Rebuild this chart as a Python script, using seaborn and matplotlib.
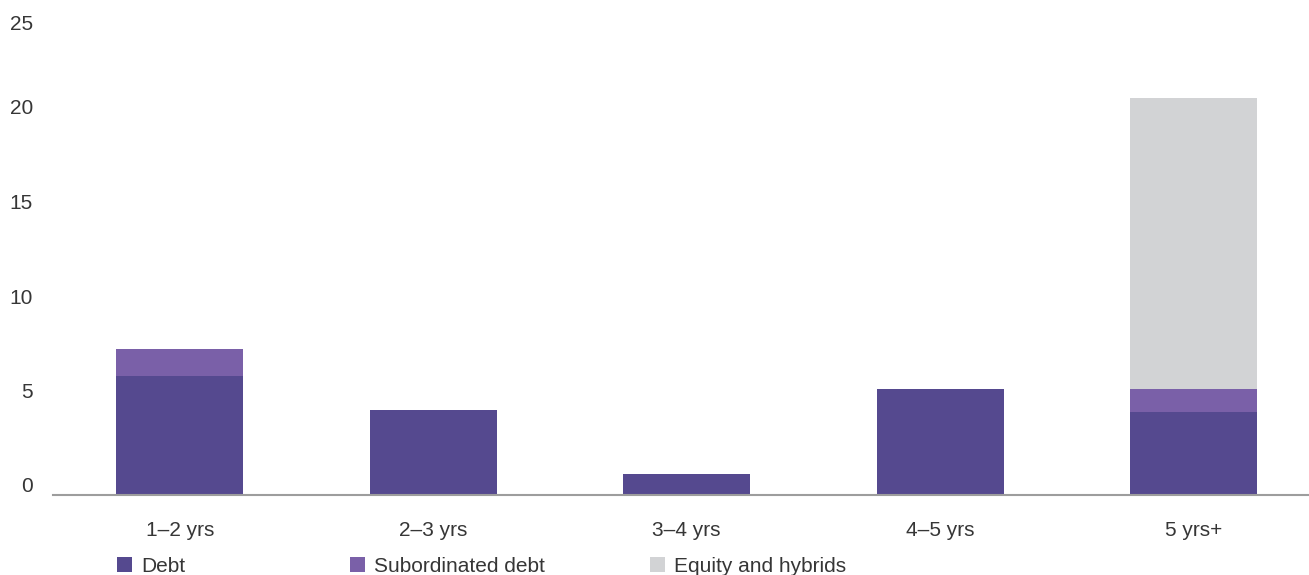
import matplotlib
matplotlib.use("Agg")
import matplotlib.pyplot as plt
from matplotlib.patches import Patch
from matplotlib.transforms import ScaledTranslation
import numpy as np
import pandas as pd
import seaborn as sns

# Maturity buckets and amounts per funding type
categories = ["1\u20132 yrs", "2\u20133 yrs", "3\u20134 yrs", "4\u20135 yrs", "5 yrs+"]
debt = [6.3, 4.5, 1.1, 5.6, 4.4]
subordinated_debt = [1.4, 0.0, 0.0, 0.0, 1.2]
equity_hybrids = [0.0, 0.0, 0.0, 0.0, 15.4]
series_names = ["Debt", "Subordinated debt", "Equity and hybrids"]
y_ticks = [0, 5, 10, 15, 20, 25]

colors = ["#55498F", "#7A60A8", "#D2D3D5"]
text_color = "#363636"

sns.set_theme(style="white")
plt.rcParams["font.family"] = ["Liberation Sans", "DejaVu Sans"]

df = pd.DataFrame({
    "category": categories,
    "debt": debt,
    "sub": subordinated_debt,
    "equity": equity_hybrids,
})
df["lvl1"] = df["debt"]
df["lvl2"] = df["debt"] + df["sub"]
df["lvl3"] = df["lvl2"] + df["equity"]

W, H = 1309, 575
fig = plt.figure(figsize=(W / 100, H / 100), dpi=100)
ax = fig.add_axes([53 / W, 80 / H, (W - 53) / W, 491.4 / H])

# stacked bars: draw cumulative heights from tallest to shortest
for col, c in zip(["lvl3", "lvl2", "lvl1"], colors[::-1]):
    sns.barplot(data=df, x="category", y=col, color=c, width=0.5,
                saturation=1, ax=ax, linewidth=0)

ax.set_xlim(-0.5, 4.455)
ax.set_ylim(0, 26)
ax.set_xlabel("")
ax.set_ylabel("")

for s in ["top", "right", "left"]:
    ax.spines[s].set_visible(False)
ax.spines["bottom"].set_color("#9d9d9d")
ax.spines["bottom"].set_linewidth(1.5)

ax.set_yticks(y_ticks)
ax.set_yticklabels([str(t) for t in y_ticks])
ax.tick_params(axis="y", length=0, pad=14.5, labelsize=15, labelcolor=text_color)
ax.tick_params(axis="x", length=0, pad=18.5, labelsize=15, labelcolor=text_color)
# numbers sit slightly above their value level (top one stays inside the frame)
for t, lab in zip(y_ticks, ax.get_yticklabels()):
    dy = 0.10 if t < max(y_ticks) else 0.0
    lab.set_transform(lab.get_transform() + ScaledTranslation(0, dy, fig.dpi_scale_trans))

# legend entries placed along the bottom
legend_x = [117, 350, 650]
for name, c, x in zip(series_names, colors, legend_x):
    fig.legend(handles=[Patch(facecolor=c, edgecolor="none", label=name)],
               loc="center left", bbox_to_anchor=(x / W, 1 - 566 / H),
               frameon=False, fontsize=15, handlelength=0.72,
               handleheight=0.72, handletextpad=0.45, borderpad=0,
               borderaxespad=0, labelcolor=text_color)

fig.savefig("out.png", dpi=100)
